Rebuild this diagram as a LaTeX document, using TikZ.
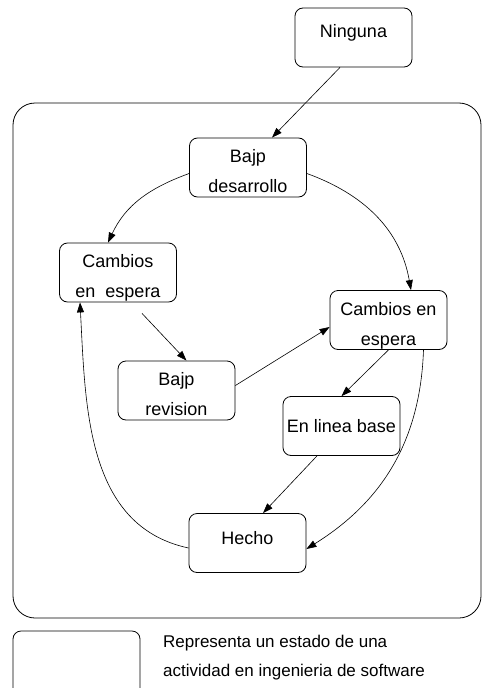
\documentclass[tikz,border=0pt]{standalone}
\usepackage{fontspec}
\setmainfont{Liberation Sans}
\usetikzlibrary{arrows.meta}
\begin{document}
\begin{tikzpicture}[x=1pt,y=1pt,
  state/.style={draw, rounded corners=8pt, minimum width=117pt, minimum height=59pt,
    inner sep=0pt, align=center, font=\fontsize{18}{30}\selectfont, line width=0.8pt},
  twoline/.style={text height=50pt, text depth=0pt},
  conn/.style={line width=0.6pt, -{Triangle[length=10pt,width=7pt]}},
  frame/.style={draw, rounded corners=22pt, line width=0.8pt}]
\useasboundingbox (0,0) rectangle (483,-688);
\begin{scope}
\clip (0,0) rectangle (483,-688);
\node[frame, minimum width=468pt, minimum height=515pt] (cont) at (247,-360.5) {};
\node[frame, rounded corners=8pt, minimum width=127pt, minimum height=80pt] (legbox) at (76.5,-671) {};
\end{scope}
\node[state, text height=12pt, text depth=13pt] (nin) at (353.5,-37.5) {Ninguna};
\node[state, twoline] (bd) at (248,-167.5) {Bajp\\desarrollo};
\node[state, twoline] (lc) at (118,-272.5) {Cambios\\en\ \ espera};
\node[state, twoline] (rc) at (388.5,-320) {Cambios en\\espera};
\node[state, twoline] (br) at (176.5,-390.5) {Bajp\\revision};
\node[state] (elb) at (341.5,-426) {En linea base};
\node[state, text height=13pt, text depth=11pt] (hecho) at (247.5,-543) {Hecho};
\node[anchor=base west, align=left, inner sep=0pt, font=\fontsize{17}{29}\selectfont] (legtxt) at (163,-676)
  {Representa un estado de una\\actividad en ingenieria de software};
% straight connectors
\draw[conn] ([xshift=-13.5pt]nin.south) -- ([xshift=24pt]bd.north);
\draw[conn] ([xshift=24pt,yshift=-11pt]lc.south) -- ([xshift=10pt]br.north);
\draw[conn] ([yshift=5pt]br.east) -- ([yshift=-7pt]rc.west);
\draw[conn] (rc.south) -- (elb.north);
\draw[conn] ([xshift=-24.5pt]elb.south) -- ([xshift=15.5pt]hecho.north);
% curved connectors
\draw[conn] ([yshift=-6pt]bd.west) to[out=200,in=65] ([xshift=-10pt]lc.north);
\draw[conn] ([yshift=-6pt]bd.east) to[out=-20,in=100] ([xshift=22.5pt]rc.north);
\draw[conn] ([xshift=35pt]rc.south) to[out=-92,in=32] ([yshift=-6pt]hecho.east);
\draw[conn] ([yshift=-5pt]hecho.west) to[out=168,in=-87] ([xshift=-38pt]lc.south);
\end{tikzpicture}
\end{document}
